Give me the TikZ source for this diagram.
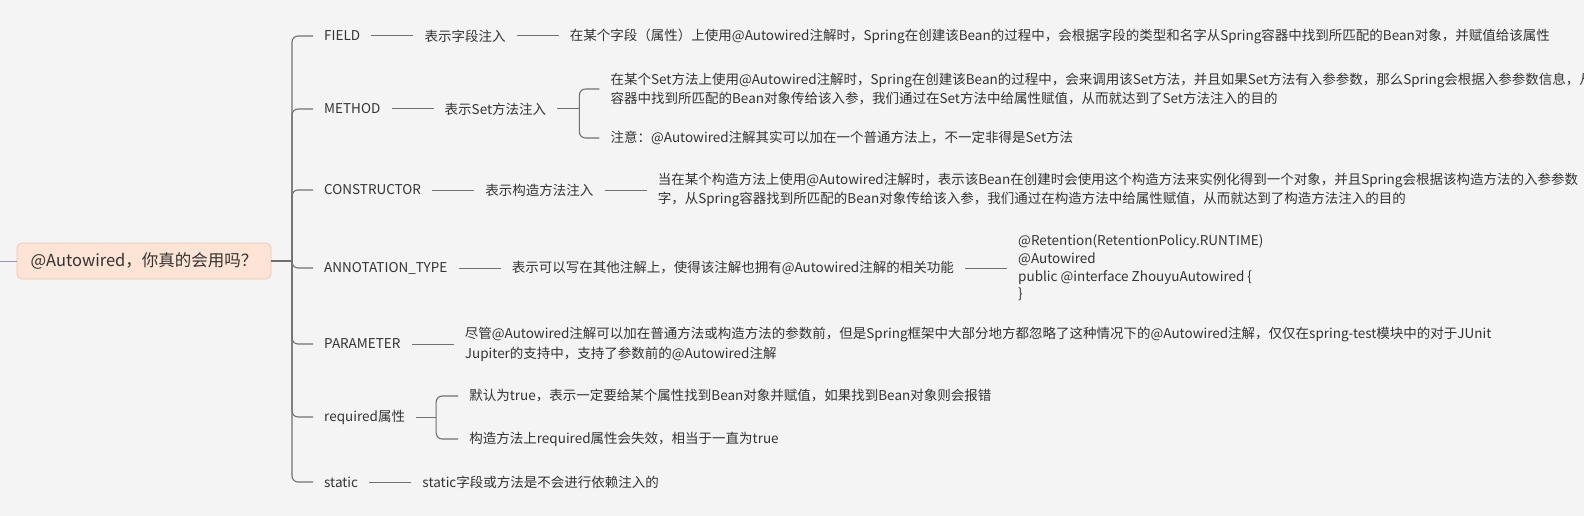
\documentclass[tikz,border=0pt]{standalone}
\usepackage{fontspec}
\setmainfont{Noto Sans CJK SC}
\usepackage{xcolor}
\usepackage{tikz}
\usetikzlibrary{positioning, calc}
\definecolor{canvasgray}{RGB}{244, 244, 244}
\definecolor{inkgray}{RGB}{51, 51, 51}
\definecolor{wiregray}{RGB}{112, 112, 112}
\definecolor{rootpeach}{RGB}{253, 228, 212}
\definecolor{rootedge}{RGB}{233, 200, 180}
\definecolor{inletblue}{RGB}{150, 150, 182}

\tikzset{
    leaf/.style={anchor=west, inner xsep=11pt, inner ysep=2pt, text=inkgray, align=left,
                 font=\fontsize{13.5}{19}\selectfont},
    link/.style={draw=wiregray, line width=1pt},
    branch/.style={draw=wiregray, line width=1.1pt, rounded corners=6pt},
}

\begin{document}
\begin{tikzpicture}[x=1pt, y=-1pt, node distance=42pt]
    \useasboundingbox[fill=canvasgray] (0,0) rectangle (1584,516);

    \node[fill=rootpeach, draw=rootedge, line width=0.8pt, rounded corners=5pt,
          minimum width=254pt, minimum height=36pt, text=inkgray,
          font=\fontsize{16.5}{20}\selectfont] (root) at (144,261) {@Autowired，你真的会用吗？};
    \coordinate (inlet) at (0,261);
    \coordinate (hub) at (292,261);
    \draw[draw=inletblue, line width=1pt] (inlet) -- (root);
    \draw[branch] (root) -- (hub);

    % FIELD
    \node[leaf] (field) at (313,36) {FIELD};
    \node[leaf, right=of field] (fielddesc) {表示字段注入};
    \node[leaf, right=of fielddesc] (fieldinfo) {在某个字段（属性）上使用@Autowired注解时，Spring在创建该Bean的过程中，会根据字段的类型和名字从Spring容器中找到所匹配的Bean对象，并赋值给该属性};
    \draw[link] (field) -- (fielddesc);
    \draw[link] (fielddesc) -- (fieldinfo);

    % METHOD
    \node[leaf] (method) at (313,109) {METHOD};
    \node[leaf, right=of method] (methoddesc) {表示Set方法注入};
    \coordinate[right=22pt of methoddesc] (methodfork);
    \node[leaf, right=of methoddesc, yshift=20pt] (methodinfo) {在某个Set方法上使用@Autowired注解时，Spring在创建该Bean的过程中，会来调用该Set方法，并且如果Set方法有入参参数，那么Spring会根据入参参数信息，从\\容器中找到所匹配的Bean对象传给该入参，我们通过在Set方法中给属性赋值，从而就达到了Set方法注入的目的};
    \node[leaf, right=of methoddesc, yshift=-29pt] (methodnote) {注意：@Autowired注解其实可以加在一个普通方法上，不一定非得是Set方法};
    \draw[link] (method) -- (methoddesc);
    \draw[link] (methoddesc) -- (methodfork);
    \draw[branch] (methodfork) |- (methodinfo.west);
    \draw[branch] (methodfork) |- (methodnote.west);

    % CONSTRUCTOR
    \node[leaf] (ctor) at (313,190) {CONSTRUCTOR};
    \node[leaf, right=of ctor] (ctordesc) {表示构造方法注入};
    \node[leaf, right=of ctordesc] (ctorinfo) {当在某个构造方法上使用@Autowired注解时，表示该Bean在创建时会使用这个构造方法来实例化得到一个对象，并且Spring会根据该构造方法的入参参数\\字，从Spring容器找到所匹配的Bean对象传给该入参，我们通过在构造方法中给属性赋值，从而就达到了构造方法注入的目的};
    \draw[link] (ctor) -- (ctordesc);
    \draw[link] (ctordesc) -- (ctorinfo);

    % ANNOTATION_TYPE
    \node[leaf] (annot) at (313,268) {ANNOTATION\_TYPE};
    \node[leaf, right=of annot] (annotdesc) {表示可以写在其他注解上，使得该注解也拥有@Autowired注解的相关功能};
    \node[leaf, right=of annotdesc, font=\fontsize{13.5}{17.7}\selectfont] (annotcode) {@Retention(RetentionPolicy.RUNTIME)\\@Autowired\\public @interface ZhouyuAutowired \{\\\}};
    \draw[link] (annot) -- (annotdesc);
    \draw[link] (annotdesc) -- (annotcode);

    % PARAMETER
    \node[leaf] (param) at (313,344) {PARAMETER};
    \node[leaf, right=of param, font=\fontsize{13.5}{20}\selectfont] (paraminfo) {尽管@Autowired注解可以加在普通方法或构造方法的参数前，但是Spring框架中大部分地方都忽略了这种情况下的@Autowired注解，仅仅在spring-test模块中的对于JUnit\\Jupiter的支持中，支持了参数前的@Autowired注解};
    \draw[link] (param) -- (paraminfo);

    % required
    \node[leaf] (required) at (313,417) {required属性};
    \coordinate[right=20pt of required] (requiredfork);
    \node[leaf, right=of required, yshift=21pt] (requiredon) {默认为true，表示一定要给某个属性找到Bean对象并赋值，如果找到Bean对象则会报错};
    \node[leaf, right=of required, yshift=-22pt] (requiredoff) {构造方法上required属性会失效，相当于一直为true};
    \draw[link] (required) -- (requiredfork);
    \draw[branch] (requiredfork) |- (requiredon.west);
    \draw[branch] (requiredfork) |- (requiredoff.west);

    % static
    \node[leaf] (static) at (313,482) {static};
    \node[leaf, right=of static] (staticinfo) {static字段或方法是不会进行依赖注入的};
    \draw[link] (static) -- (staticinfo);

    \foreach \kid in {field, method, ctor, annot, param, required, static}
        \draw[branch] (hub) |- (\kid.west);
\end{tikzpicture}
\end{document}
